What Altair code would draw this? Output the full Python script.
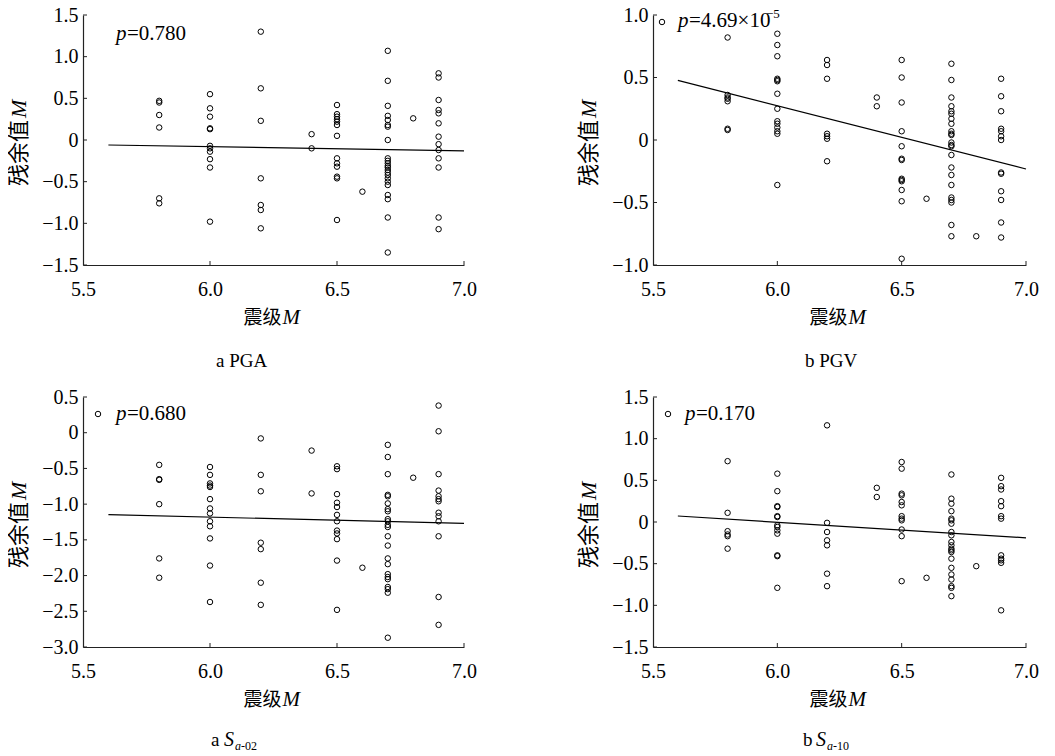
import altair as alt
import pandas as pd

MAGS = [5.8, 6.0, 6.2, 6.4, 6.5, 6.6, 6.7, 6.8, 6.9]
X_TICKS = [5.5, 6.0, 6.5, 7.0]
FIT_X = [5.6, 7.0]

PGA_RES = [
    [0.47, 0.45, 0.30, 0.15, -0.70, -0.76],
    [0.55, 0.38, 0.28, 0.14, 0.13, -0.07, -0.10, -0.14, -0.23, -0.33, -0.98],
    [1.30, 0.62, 0.23, -0.46, -0.78, -0.84, -1.06],
    [0.07, -0.10],
    [0.42, 0.31, 0.28, 0.25, 0.22, 0.18, 0.05, -0.22, -0.28, -0.32, -0.44, -0.46, -0.96],
    [-0.62],
    [1.07, 0.71, 0.41, 0.29, 0.24, 0.18, 0.16, 0.0, -0.22, -0.25, -0.28, -0.31, -0.33,
     -0.36, -0.39, -0.42, -0.46, -0.50, -0.54, -0.66, -0.71, -0.93, -1.35],
    [0.26],
    [0.80, 0.75, 0.48, 0.36, 0.32, 0.20, 0.04, -0.05, -0.12, -0.22, -0.33, -0.93, -1.07],
]
PGA_FIT = [-0.06, -0.13]

PGV_RES = [
    [0.82, 0.36, 0.34, 0.33, 0.31, 0.09, 0.08],
    [0.85, 0.76, 0.67, 0.49, 0.48, 0.47, 0.37, 0.25, 0.15, 0.13, 0.10, 0.07, 0.05, -0.36],
    [0.64, 0.60, 0.49, 0.05, 0.03, 0.01, -0.17],
    [0.34, 0.27],
    [0.64, 0.50, 0.30, 0.07, -0.05, -0.15, -0.16, -0.31, -0.32, -0.33, -0.40, -0.49, -0.95],
    [-0.47],
    [0.61, 0.48, 0.34, 0.27, 0.23, 0.21, 0.17, 0.13, 0.07, 0.05, 0.04, -0.02, -0.04,
     -0.05, -0.12, -0.22, -0.28, -0.36, -0.46, -0.48, -0.50, -0.68, -0.77],
    [-0.77],
    [0.49, 0.35, 0.23, 0.09, 0.07, 0.03, 0.0, -0.26, -0.27, -0.41, -0.48, -0.66, -0.78],
]
PGV_FIT = [0.477, -0.232]

SA02_RES = [
    [-0.45, -0.65, -0.66, -1.00, -1.76, -2.03],
    [-0.48, -0.59, -0.71, -0.74, -0.76, -0.93, -1.06, -1.13, -1.24, -1.31, -1.48, -1.86, -2.37],
    [-0.08, -0.59, -0.82, -1.54, -1.63, -2.10, -2.41],
    [-0.25, -0.85],
    [-0.47, -0.51, -0.86, -0.98, -1.04, -1.15, -1.24, -1.37, -1.41, -1.49, -1.79, -2.48],
    [-1.89],
    [-0.17, -0.34, -0.58, -0.87, -0.89, -0.99, -1.07, -1.10, -1.21, -1.24, -1.29, -1.32,
     -1.45, -1.58, -1.76, -1.84, -1.98, -2.02, -2.05, -2.16, -2.19, -2.24, -2.87],
    [-0.63],
    [0.38, 0.02, -0.58, -0.81, -0.89, -0.93, -0.96, -1.12, -1.17, -1.24, -1.45, -2.30, -2.69],
]
SA02_FIT = [-1.146, -1.27]

SA10_RES = [
    [0.73, 0.11, -0.11, -0.15, -0.17, -0.32],
    [0.58, 0.37, 0.19, 0.18, 0.07, 0.06, -0.04, -0.06, -0.10, -0.14, -0.40, -0.41, -0.79],
    [1.16, -0.01, -0.12, -0.22, -0.28, -0.62, -0.77],
    [0.41, 0.30],
    [0.72, 0.64, 0.34, 0.32, 0.24, 0.20, 0.07, 0.04, 0.02, -0.09, -0.17, -0.71],
    [-0.67],
    [0.57, 0.28, 0.22, 0.13, 0.04, 0.02, -0.02, -0.12, -0.16, -0.24, -0.28, -0.32, -0.34,
     -0.36, -0.44, -0.55, -0.63, -0.69, -0.77, -0.79, -0.89],
    [-0.53],
    [0.53, 0.43, 0.39, 0.25, 0.19, 0.07, 0.04, -0.40, -0.44, -0.46, -0.49, -1.06],
]
SA10_FIT = [0.072, -0.19]

SERIF = "Liberation Serif"
CJK = "Noto Sans CJK SC"
H = 250


def txt(s, x, y, size=20, style="normal", font=SERIF, align="left",
        baseline="alphabetic", angle=0):
    kw = dict(font=font, fontSize=size, fontStyle=style, align=align,
              baseline=baseline, color="black")
    if angle:
        kw["angle"] = angle
    return alt.Chart(pd.DataFrame({"t": [s]})).mark_text(**kw).encode(
        x=alt.value(x), y=alt.value(y), text="t:N")


def panel(res, fit, ydom, width, p_text, sup, marker, p_pos, cap, cap_sub, cap_x, cap_y):
    rows = [(m, r) for m, rs in zip(MAGS, res) for r in rs]
    df = pd.DataFrame(rows, columns=["m", "r"])
    yticks = [round(ydom[0] + 0.5 * i, 1) for i in range(int(round((ydom[1] - ydom[0]) / 0.5)) + 1)]
    xs = alt.Scale(domain=[5.5, 7.0], nice=False, zero=False)
    ys = alt.Scale(domain=ydom, nice=False, zero=False)
    xax = alt.Axis(values=X_TICKS, format=".1f", title=None, ticks=False, tickSize=0,
                   grid=False, labelPadding=14, labelFlush=False, labelFont=SERIF,
                   labelFontSize=20, labelColor="black", domainColor="#222", domainWidth=1.2)
    yax = alt.Axis(values=yticks, title=None, ticks=False, tickSize=0, grid=False,
                   labelPadding=5, labelFont=SERIF, labelFontSize=20, labelColor="black",
                   labelExpr="datum.value == 0 ? '0' : format(datum.value, '.1f')",
                   domainColor="#222", domainWidth=1.2)
    X = alt.X("m:Q", scale=xs, axis=xax)
    Y = alt.Y("r:Q", scale=ys, axis=yax)
    pts = alt.Chart(df).mark_point(shape="circle", filled=False, color="black",
                                   size=30, strokeWidth=1, opacity=1).encode(x=X, y=Y)
    line = alt.Chart(pd.DataFrame({"m": FIT_X, "r": fit})).mark_line(
        color="black", strokeWidth=1.2).encode(x=X, y=Y)
    ytk = alt.Chart(pd.DataFrame({"r": yticks})).mark_rule(color="#222", strokeWidth=1).encode(
        y=Y, x=alt.value(0), x2=alt.value(4))
    xtk = alt.Chart(pd.DataFrame({"m": X_TICKS[1:]})).mark_rule(color="#222", strokeWidth=1).encode(
        x=X, y=alt.value(H), y2=alt.value(H - 4))
    layers = [pts, line, ytk, xtk]
    px, py = p_pos
    layers.append(txt("p", px, py, size=21, style="italic"))
    layers.append(txt(p_text, px + 11, py, size=21))
    if sup:
        layers.append(txt(sup, px + 88, py - 9, size=13))
    if marker:
        mk = alt.Chart(pd.DataFrame({"k": [1]})).mark_point(
            shape="circle", filled=False, color="black", size=30, strokeWidth=1, opacity=1).encode(
            x=alt.value(marker[0]), y=alt.value(marker[1]))
        layers.append(mk)
    layers.append(txt("残余值", -64, 105, size=22, font=CJK, align="right",
                      baseline="middle", angle=270))
    layers.append(txt("M", -64, 103, size=22, style="italic", align="left",
                      baseline="middle", angle=270))
    cx = width / 2 + 8
    layers.append(txt("震级", cx, 309, size=19, font=CJK, align="right"))
    layers.append(txt("M", cx + 1, 309, size=21, style="italic"))
    if cap_sub is None:
        layers.append(txt(cap, cap_x, cap_y, size=19))
    else:
        layers.append(txt(cap, cap_x, cap_y, size=19))
        layers.append(txt("S", cap_x + 13, cap_y, size=20, style="italic"))
        layers.append(txt("a", cap_x + 24, cap_y + 4, size=12, style="italic"))
        layers.append(txt(cap_sub, cap_x + 30, cap_y + 4, size=12))
    return alt.layer(*layers).properties(width=width, height=H)


pa = panel(PGA_RES, PGA_FIT, [-1.5, 1.5], 381, "=0.780", None, None, (33, 25), "a PGA", None, 133, 352)
pb = panel(PGV_RES, PGV_FIT, [-1.0, 1.0], 373, "=4.69×10", "−5", (9, 7), (25, 12), "b PGV", None, 152, 352)
pc = panel(SA02_RES, SA02_FIT, [-3.0, 0.5], 381, "=0.680", None, (15, 17), (33, 23), "a ", "-02", 128, 349)
pd_ = panel(SA10_RES, SA10_FIT, [-1.5, 1.5], 373, "=0.170", None, (15, 17), (32, 23), "b ", "-10", 150, 349)

top = alt.hconcat(pa, pb, spacing=101)
bottom = alt.hconcat(pc, pd_, spacing=101)
chart = alt.vconcat(top, bottom, spacing=16).properties(
    padding={"top": -3, "left": 0, "right": 0, "bottom": 0}, background="white").configure_view(
    stroke=None)

chart.save("out.html", embed_options={"renderer": "svg", "actions": False})
